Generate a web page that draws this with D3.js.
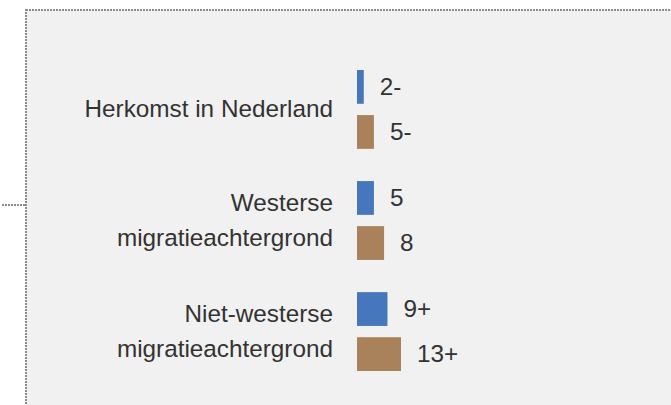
<!DOCTYPE html>
<meta charset="utf-8">
<head>
  <style>
    body {
      margin: 0;
      background: #fff;
      overflow: hidden;
    }
    svg {
      display: block;
      font-family: "Liberation Sans", Arial, sans-serif;
    }
    .cat, .val {
      font-size: 24.3px;
      fill: #333;
    }
    .frame {
      fill: #f1f1f1;
      stroke: #8c8c8c;
      stroke-width: 2px;
      stroke-dasharray: 2 1;
    }
  </style>
</head>
<body>
  <script src="https://d3js.org/d3.v7.min.js"></script>
  <script>
    // categories (each is drawn as one or two lines of text)
    const categories = ["Herkomst in Nederland", "Westerse migratieachtergrond", "Niet-westerse migratieachtergrond"];
    const categoryLines = [["Herkomst in Nederland"], ["Westerse", "migratieachtergrond"], ["Niet-westerse", "migratieachtergrond"]];
    const series = ["a", "b"];
    const seriesA = [2, 5, 9];
    const seriesB = [5, 8, 13];
    const labelsA = ["2-", "5", "9+"];
    const labelsB = ["5-", "8", "13+"];
    const colors = ["#4677bc", "#a9825c"];

    const width = 671, height = 405;

    const svg = d3.select("body").append("svg")
      .attr("width", width)
      .attr("height", height);

    // dotted frame running off the right and bottom edges
    svg.append("rect")
      .attr("class", "frame")
      .attr("x", 26)
      .attr("y", 10)
      .attr("width", width)
      .attr("height", height);

    svg.append("line")
      .attr("x1", 2).attr("x2", 25)
      .attr("y1", 205).attr("y2", 205)
      .attr("stroke", "#8c8c8c")
      .attr("stroke-width", 2)
      .attr("stroke-dasharray", "2 1");

    const y0 = d3.scaleBand()
      .domain(categories)
      .range([70, 371])
      .paddingInner(0.29);

    const y1 = d3.scaleBand()
      .domain(series)
      .range([0, y0.bandwidth()])
      .paddingInner(0.25);

    const x = d3.scaleLinear()
      .domain([0, 13])
      .range([357, 401]);

    const rows = categories.map((c, i) => ({
      cat: c,
      lines: categoryLines[i],
      vals: [
        {key: "a", v: seriesA[i], label: labelsA[i], color: colors[0]},
        {key: "b", v: seriesB[i], label: labelsB[i], color: colors[1]}
      ]
    }));

    const group = svg.selectAll("g.group")
      .data(rows)
      .join("g")
      .attr("class", "group")
      .attr("transform", d => `translate(0,${y0(d.cat)})`);

    // category labels, right aligned next to the bars
    group.append("text")
      .attr("class", "cat")
      .attr("text-anchor", "end")
      .attr("x", 333)
      .selectAll("tspan")
      .data(d => d.lines.map((l, j) => ({l, j, n: d.lines.length})))
      .join("tspan")
      .attr("x", 333)
      .attr("y", d => y0.bandwidth() / 2 + 8 + (d.j - (d.n - 1) / 2) * 35)
      .text(d => d.l);

    group.selectAll("rect")
      .data(d => d.vals)
      .join("rect")
      .attr("x", x(0))
      .attr("y", d => y1(d.key))
      .attr("width", d => x(d.v) - x(0))
      .attr("height", y1.bandwidth())
      .attr("fill", d => d.color);

    group.selectAll("text.val")
      .data(d => d.vals)
      .join("text")
      .attr("class", "val")
      .attr("x", d => x(d.v) + 16)
      .attr("y", d => y1(d.key) + y1.bandwidth() / 2 + 8)
      .text(d => d.label);
  </script>
</body>
